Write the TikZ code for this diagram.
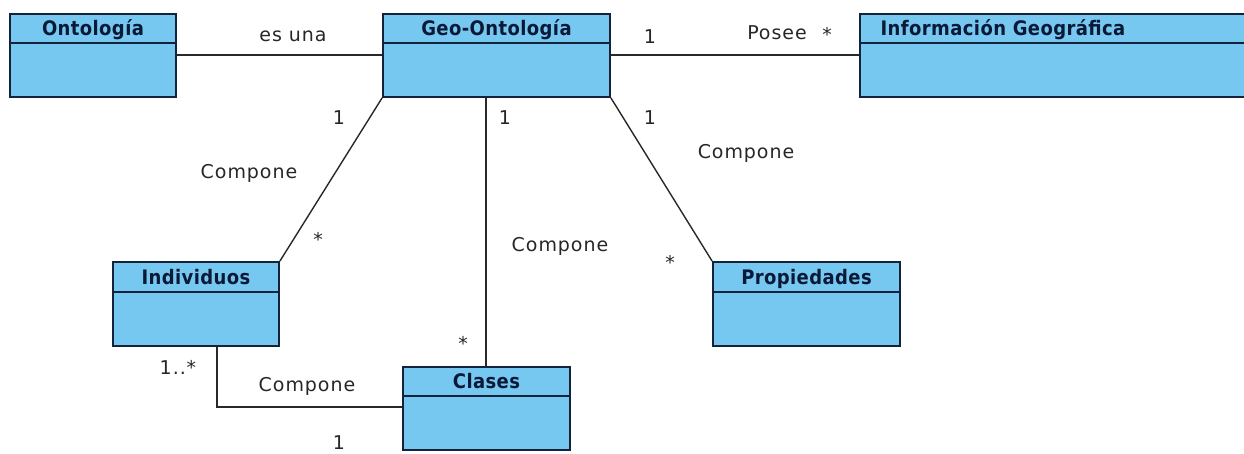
\documentclass[tikz,border=0pt]{standalone}
\usepackage{fontspec}
\usetikzlibrary{fit}
\setmainfont{DejaVu Sans}
\newfontfamily\titlefont{DejaVu Sans Condensed}[BoldFont={* Bold}, LetterSpace=2]
\newfontfamily\labelfont{DejaVu Sans}[LetterSpace=5]
\definecolor{umlfill}{RGB}{118,200,240}
\definecolor{umlline}{RGB}{20,35,60}
\definecolor{umltext}{RGB}{10,25,55}
\definecolor{linkgray}{RGB}{40,40,40}
\begin{document}
\begin{tikzpicture}[x=1pt,y=-1pt,
  lbl/.style={font=\labelfont\fontsize{19}{21}\selectfont, text=black!85, inner sep=0pt},
  link/.style={draw=linkgray, line width=1.4pt},
  classbox/.style={fill=umlfill, draw=umlline, line width=1.8pt, inner sep=0pt},
  classtitle/.style={inner sep=0pt, anchor=base, text=umltext,
    font=\titlefont\bfseries\fontsize{20}{22}\selectfont}]
\useasboundingbox (0,0) rectangle (1244,453);
% UML class box: #1 name, #2 left, #3 top, #4 right, #5 bottom, #6 divider, #7 title
\newcommand{\umlclass}[7]{%
  \coordinate (#1-nw) at (#2,#3);
  \coordinate (#1-se) at (#4,#5);
  \node[classbox, fit=(#1-nw)(#1-se)] (#1) {};
  \draw[umlline, line width=1.8pt] (#2,#6) -- (#4,#6);
  \node[classtitle] (#1-title) at ({(#2+#4)/2},{#6-8}) {#7};
}
\coordinate (bend) at (217,407);
\umlclass{onto}{10}{14}{176}{97}{43}{Ontología}
\umlclass{geo}{383}{14}{610}{97}{43}{Geo-Ontología}
\umlclass{indiv}{113}{262}{279}{346}{292}{Individuos}
\umlclass{clases}{403}{367}{570}{450}{396}{Clases}
\umlclass{prop}{713}{262}{900}{346}{292}{Propiedades}
% this box runs past the right edge of the sheet
\coordinate (info-nw) at (860,14);
\coordinate (info-se) at (1256,97);
\node[classbox, fit=(info-nw)(info-se)] (info) {};
\draw[umlline, line width=1.8pt] (860,43) -- (1256,43);
\node[classtitle] (info-title) at (1003,35) {Información Geográfica};

% associations
\draw[link] (onto.east |- 0,55) -- (geo.west |- 0,55);
\draw[link] (geo.east |- 0,55) -- (info.west |- 0,55);
\draw[link] (geo.south west) -- (indiv.north east);
\draw[link] (geo.south -| 486,0) -- (clases.north -| 486,0);
\draw[link] (geo.south east) -- (prop.north west);
\draw[link] (indiv.south -| bend) -- (bend) -- (clases.west |- bend);

% association labels and multiplicities
\node[lbl] (l-esuna) at (293,36) {es una};
\node[lbl] (l-posee1) at (650,37) {1};
\node[lbl] (l-posee) at (777,33) {Posee};
\node[lbl] (l-poseem) at (827,34) {*};
\node[lbl] (l-ind1) at (339,118) {1};
\node[lbl] (l-indc) at (249,173) {Compone};
\node[lbl] (l-indm) at (318,239) {*};
\node[lbl] (l-cla1) at (505,118) {1};
\node[lbl] (l-clac) at (560,246) {Compone};
\node[lbl] (l-clam) at (463,343) {*};
\node[lbl] (l-pro1) at (650,118) {1};
\node[lbl] (l-proc) at (746,153) {Compone};
\node[lbl] (l-prom) at (670,262) {*};
\node[lbl] (l-ic1) at (178,367) {1..*};
\node[lbl] (l-icc) at (307,386) {Compone};
\node[lbl] (l-ic2) at (339,443) {1};
\end{tikzpicture}
\end{document}
